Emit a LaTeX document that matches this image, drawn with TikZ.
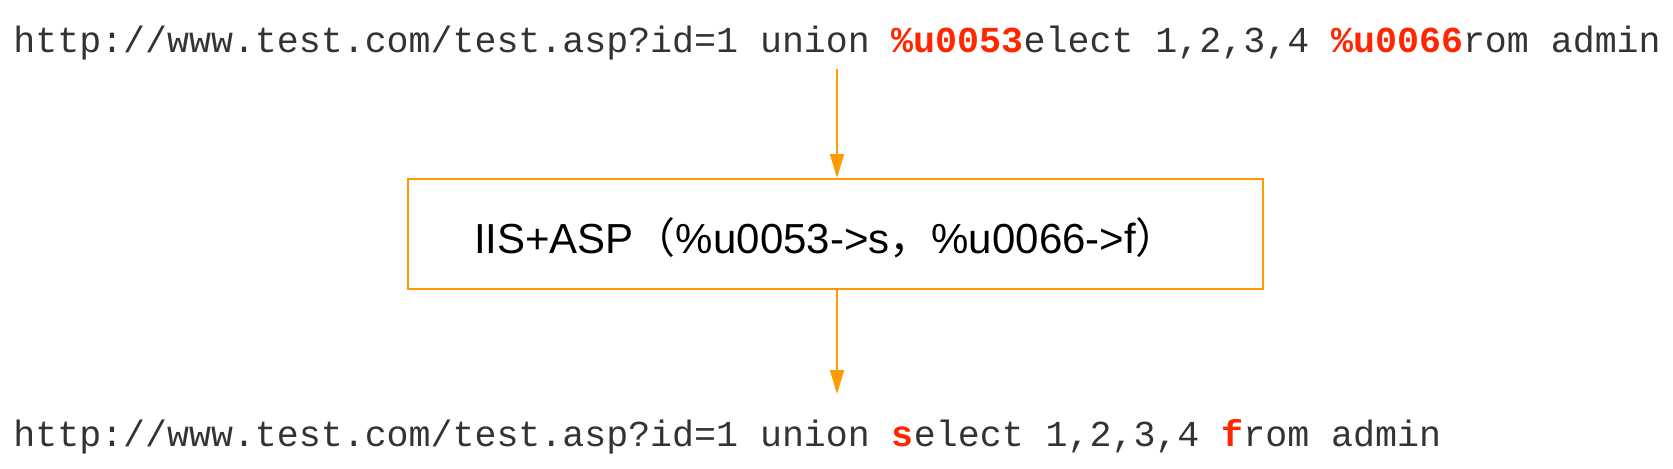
\documentclass[tikz,border=0pt]{standalone}
\usepackage{fontspec}
\usetikzlibrary{arrows.meta}
\newfontfamily\monof{Liberation Mono}
\newfontfamily\sansf{Liberation Sans}
\newfontfamily\cjkf{Noto Sans CJK SC}
\definecolor{txtgray}{HTML}{333333}
\definecolor{hired}{HTML}{FF2600}
\definecolor{orng}{HTML}{FF9A00}
\newcommand{\hl}[1]{{\bfseries\color{hired}#1}}
\begin{document}
\begin{tikzpicture}[x=0.5pt,y=-0.5pt,
  urltext/.style={anchor=base west,inner sep=0pt,text=txtgray,font=\monof\fontsize{18.3}{22}\selectfont},
  procbox/.style={draw=orng,line width=1pt,minimum width=427.5pt,minimum height=55pt,inner sep=0pt},
  boxtext/.style={inner sep=0pt,text=black,font=\sansf\fontsize{21}{25}\selectfont},
  arr/.style={draw=orng,line width=1pt,-{Triangle[width=7pt,length=12pt]}}]
\useasboundingbox (0,0) rectangle (1673,468);
\node[urltext] (top) at (13,52) {http://www.test.com/test.asp?id=1 union \hl{\%u0053}elect 1,2,3,4 \hl{\%u0066}rom admin};
\node[procbox] (box) at (835.5,234) {};
\node[boxtext] (lbl) at (826,238) {IIS+ASP{\cjkf（}\%u0053->s{\cjkf，}\%u0066->f{\cjkf）}};
\node[urltext] (bot) at (13,446) {http://www.test.com/test.asp?id=1 union \hl{s}elect 1,2,3,4 \hl{f}rom admin};
\coordinate (a1) at (837,69);
\coordinate (a2) at (837,394);
\draw[arr] (a1) -- (a1 |- box.north);
\draw[arr] (a2 |- box.south) -- (a2);
\end{tikzpicture}
\end{document}
